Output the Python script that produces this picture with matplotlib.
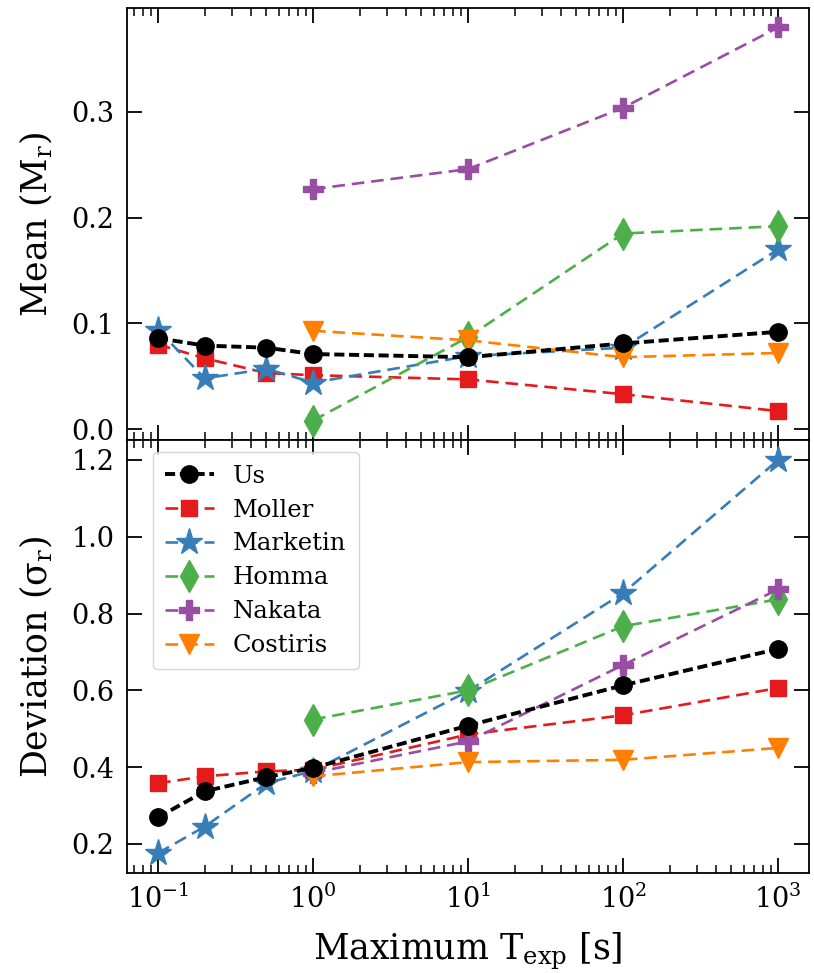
import matplotlib
matplotlib.use("Agg")
import matplotlib.pyplot as plt
import numpy as np

plt.rcParams['font.family'] = ['DejaVu Serif']
plt.rcParams['mathtext.fontset'] = 'dejavuserif'

t_all = [0.1, 0.2, 0.5, 1, 10, 100, 1000]
t_big = [1, 10, 100, 1000]

names = ["Us", "Moller", "Marketin", "Homma", "Nakata", "Costiris"]

mean_us = [0.086, 0.079, 0.077, 0.071, 0.068, 0.081, 0.092]
mean_moller = [0.080, 0.067, 0.053, 0.051, 0.047, 0.033, 0.017]
mean_marketin = [0.094, 0.048, 0.057, 0.044, 0.069, 0.077, 0.170]
mean_homma = [0.008, 0.087, 0.185, 0.192]
mean_nakata = [0.227, 0.246, 0.304, 0.380]
mean_costiris = [0.093, 0.084, 0.068, 0.072]

dev_us = [0.269, 0.337, 0.374, 0.398, 0.508, 0.613, 0.708]
dev_moller = [0.358, 0.376, 0.389, 0.393, 0.485, 0.535, 0.606]
dev_marketin = [0.176, 0.245, 0.358, 0.390, 0.598, 0.853, 1.200]
dev_homma = [0.524, 0.600, 0.767, 0.837]
dev_nakata = [0.385, 0.467, 0.666, 0.863]
dev_costiris = [0.376, 0.413, 0.419, 0.450]

colors = ["black", "#e41a1c", "#377eb8", "#4daf4a", "#984ea3", "#ff7f00"]
markers = ["o", "s", "*", "d", "P", "v"]
msizes = [12.5, 11, 20, 16, 15, 14]
lws = [2.8, 1.9, 1.9, 1.9, 1.9, 1.9]
dash_pats = [(2.6, 1.2), (4.8, 2.6), (4.8, 2.6), (4.8, 2.6), (4.8, 2.6), (4.8, 2.6)]

xs = [t_all, t_all, t_all, t_big, t_big, t_big]
means = [mean_us, mean_moller, mean_marketin, mean_homma, mean_nakata, mean_costiris]
devs = [dev_us, dev_moller, dev_marketin, dev_homma, dev_nakata, dev_costiris]

fig, (ax1, ax2) = plt.subplots(2, 1, sharex=True, figsize=(8.14, 9.73), dpi=100)
fig.subplots_adjust(left=0.156, right=0.994, top=0.992, bottom=0.103, hspace=0)

order = [1, 2, 3, 4, 5, 0]
for i in order:
    z = 3 if i == 0 else 2
    for ax, ys in ((ax1, means[i]), (ax2, devs[i])):
        ax.plot(xs[i], ys, ls='--', dashes=dash_pats[i], color=colors[i],
                marker=markers[i], ms=msizes[i], lw=lws[i], label=names[i], zorder=z)

for ax in (ax1, ax2):
    ax.set_xscale('log')
    ax.tick_params(which='both', direction='in', top=True, right=True, labelsize=19.5)
    ax.tick_params(axis='y', which='both', pad=9)
    ax.tick_params(axis='x', which='both', pad=8.5)
    ax.tick_params(which='major', length=11, width=1.3)
    ax.tick_params(which='minor', length=6, width=1.1)
    for s in ax.spines.values():
        s.set_linewidth(1.3)

ax1.set_yticks([0.0, 0.1, 0.2, 0.3])
ax2.set_yticks([0.2, 0.4, 0.6, 0.8, 1.0, 1.2])
ax1.set_ylabel(r'Mean (M$_\mathrm{r}$)', fontsize=25, labelpad=12)
ax2.set_ylabel(r'Deviation (σ$_\mathrm{r}$)', fontsize=25, labelpad=12)
ax2.set_xlabel(r'Maximum T$_\mathrm{exp}$ [s]', fontsize=25, labelpad=12)

handles, labels = ax2.get_legend_handles_labels()
hmap = dict(zip(labels, handles))
ax2.legend([hmap[n] for n in names], names, loc='upper left', fontsize=17.5,
           bbox_to_anchor=(0.02, 1.0), handlelength=2.0, borderpad=0.5,
           labelspacing=0.45)

fig.savefig("out.png", dpi=100)
